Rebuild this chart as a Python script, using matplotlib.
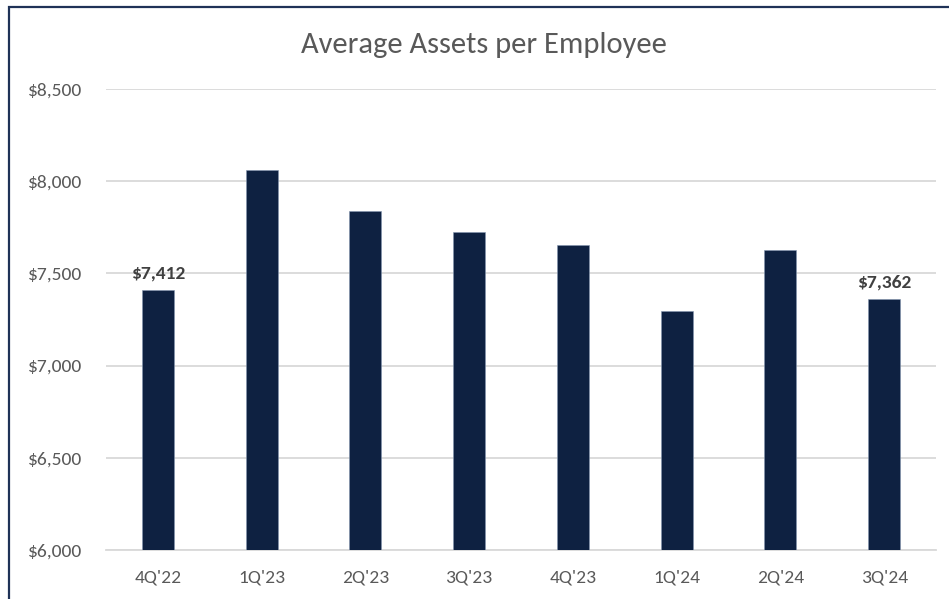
import matplotlib.pyplot as plt
from matplotlib.patches import Rectangle
from matplotlib.ticker import FuncFormatter

plt.rcParams['font.family'] = ['Carlito', 'Liberation Sans Narrow', 'Lato', 'DejaVu Sans']

quarters = ["4Q'22", "1Q'23", "2Q'23", "3Q'23", "4Q'23", "1Q'24", "2Q'24", "3Q'24"]
assets = [7412, 8060, 7840, 7725, 7655, 7297, 7628, 7362]
labelled = [0, 7]  # bars that carry a value label

navy = '#0E2141'
grey_txt = '#595959'

fig = plt.figure(figsize=(9.49, 5.99), dpi=100)
ax = fig.add_axes([106/949, 1-550/599, 830/949, (550-89)/599])

ax.bar(range(len(quarters)), assets, width=0.31, color=navy,
       edgecolor='#8496B0', linewidth=0.4, zorder=3)

for i in labelled:
    ax.annotate('${:,.0f}'.format(assets[i]), (i, assets[i]),
                xytext=(0, 6), textcoords='offset points',
                ha='center', va='bottom', fontsize=14,
                fontweight='bold', color='#404040')

ax.set_ylim(6000, 8500)
ax.set_xlim(-0.5, len(quarters) - 0.5)
ax.set_yticks(range(6000, 8501, 500))
ax.yaxis.set_major_formatter(FuncFormatter(lambda v, p: '${:,.0f}'.format(v)))
ax.set_xticks(range(len(quarters)))
ax.set_xticklabels(quarters)

ax.grid(axis='y', color='#D9D9D9', linewidth=1.3, zorder=0)
for s in ['top', 'right', 'left']:
    ax.spines[s].set_visible(False)
ax.spines['bottom'].set_color('#D9D9D9')
ax.spines['bottom'].set_linewidth(1.3)
ax.tick_params(axis='both', length=0, labelsize=14, colors=grey_txt)
ax.tick_params(axis='y', pad=17)
ax.tick_params(axis='x', pad=14)

fig.text(484/949, 1-45/599, 'Average Assets per Employee',
         ha='center', va='center', fontsize=22, color=grey_txt)

# chart-area border: only top and left edges fall inside the picture
fig.patches.append(Rectangle((8.5/949, -0.1), 1.2, 1.1 - 7.5/599,
                             transform=fig.transFigure, fill=False,
                             edgecolor='#1F3257', linewidth=1.6))

fig.savefig('out.png', dpi=100)
